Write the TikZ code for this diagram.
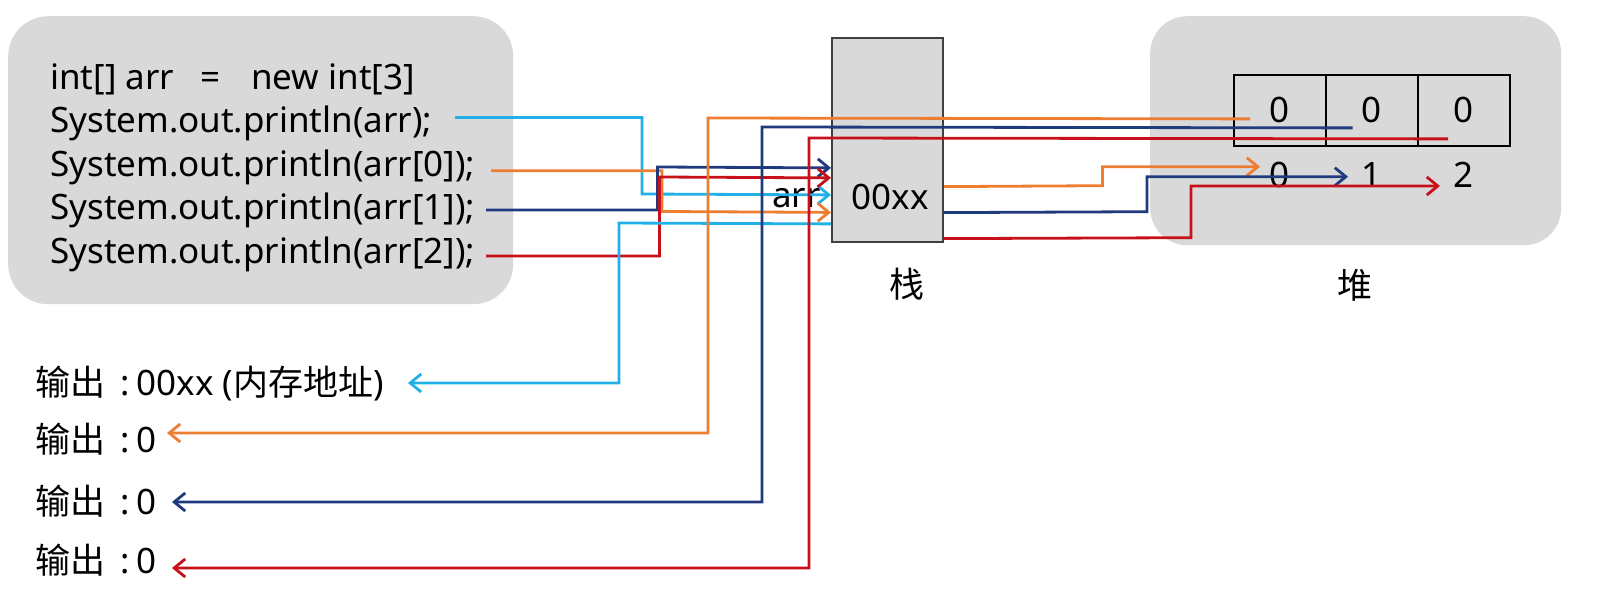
\documentclass[tikz,border=0pt]{standalone}
\usepackage{fontspec}
\setmainfont{Noto Sans}
\newfontfamily\cjk{Noto Sans CJK SC}
\usetikzlibrary{arrows.meta}
\definecolor{cyanl}{HTML}{22B0E8}
\definecolor{orangel}{HTML}{ED7D31}
\definecolor{navyl}{HTML}{1F3A7D}
\definecolor{redl}{HTML}{C8101A}
\definecolor{boxgray}{HTML}{D9D9D9}
\definecolor{edgegray}{HTML}{404040}
\newcommand{\outcolon}{\hspace{15pt}:\hspace{7pt}}
\begin{document}
\begin{tikzpicture}[x=1pt,y=-1pt,
  txt/.style={inner sep=0pt, font=\fontsize{35}{42}\selectfont},
  region/.style={fill=boxgray, draw=none, anchor=north west, inner sep=0pt},
  cell/.style={draw=black, line width=1.8pt, minimum width=92pt, minimum height=71pt, inner sep=0pt, font=\fontsize{35}{42}\selectfont},
  wire/.style={line width=2.8pt, line join=miter},
  tip/.style={-{Straight Barb[length=11pt,width=18pt]}}]
\useasboundingbox (0,0) rectangle (1608,609);

% regions
\node[region, rounded corners=40pt, minimum width=505pt, minimum height=288pt] (code) at (8,16) {};
\node[region, rounded corners=37pt, minimum width=411pt, minimum height=229pt] (heap) at (1150,16) {};
\node[fill=boxgray, draw=edgegray, line width=1.8pt, anchor=north west, minimum width=111pt, minimum height=204pt, inner sep=0pt] (stack) at (831,37) {};

% array cells
\node[cell, anchor=north west] (c0) at (1233,74) {0};
\node[cell, anchor=north west] (c1) at (1325,74) {0};
\node[cell, anchor=north west] (c2) at (1417,74) {0};
\node[txt] (i0) at (1279,175) {0};
\node[txt] (i1) at (1371,175) {1};
\node[txt] (i2) at (1463,175) {2};

% code lines
\node[txt, anchor=base west] (l1) at (50,89.5) {int[] arr\hspace{26pt}=\hspace{31pt}new int[3]};
\node[txt, anchor=base west] (l2) at (50,133) {System.out.println(arr);};
\node[txt, anchor=base west] (l3) at (50,176.5) {System.out.println(arr[0]);};
\node[txt, anchor=base west] (l4) at (50,220) {System.out.println(arr[1]);};
\node[txt, anchor=base west] (l5) at (50,263.5) {System.out.println(arr[2]);};

% stack texts
\node[txt] (addr) at (890,197) {00xx};
\node[txt, anchor=east] (arrlbl) at (821,198) {arr};
\node[txt] (zhan) at (907,284) {\cjk 栈};
\node[txt] (dui) at (1355,285) {\cjk 堆};

% outputs
\node[txt, anchor=base west] (o1) at (35,395) {{\cjk 输出}\outcolon 00xx ({\cjk 内存地址})};
\node[txt, anchor=base west] (o2) at (35,452) {{\cjk 输出}\outcolon 0};
\node[txt, anchor=base west] (o3) at (35,514) {{\cjk 输出}\outcolon 0};
\node[txt, anchor=base west] (o4) at (35,573) {{\cjk 输出}\outcolon 0};

% coordinates
\coordinate (cyS) at (455,117.5);
\coordinate (orS) at (491,170.7);
\coordinate (nvS) at (486,210);
\coordinate (rdS) at (486,256);
\coordinate (cyE) at (408,383);
\coordinate (orE) at (167,433);
\coordinate (nvE) at (172,502);
\coordinate (rdE) at (172,568);
\coordinate (orH) at (1260,166.7);
\coordinate (nvH) at (1348,176.7);
\coordinate (rdH) at (1440,186);

% code -> stack
\draw[wire, cyanl, tip] (cyS) -- (642,117.5) -- (642,194) -- ([yshift=-55pt]stack.west);
\draw[wire, orangel, tip] (orS) -- (662,170.7) -- (662,211.5) -- ([yshift=-72.5pt]stack.west);
\draw[wire, navyl, tip] (nvS) -- (657.5,210) -- (657.5,167) -- ([yshift=-28pt]stack.west);
\draw[wire, redl, tip] (rdS) -- (659.5,256) -- (659.5,177) -- ([yshift=-38pt]stack.west);

% stack -> output (address)
\draw[wire, cyanl, tip] ([yshift=-84pt]stack.west) -- (619,223) -- (619,383) -- (cyE);

% stack -> heap
\draw[wire, orangel, tip] ([yshift=-46.7pt]stack.east) -- (1102.5,185.7) -- (1102.5,166.7) -- (orH);
\draw[wire, navyl, tip] ([yshift=-72.7pt]stack.east) -- (1147,211.7) -- (1147,176.7) -- (nvH);
\draw[wire, redl, tip] ([yshift=-98.7pt]stack.east) -- (1191,237.7) -- (1191,186) -- (rdH);

% heap cells -> outputs
\draw[wire, orangel, tip] ([xshift=17pt,yshift=-8.5pt]c0.west) -- (708,118) -- (708,433) -- (orE);
\draw[wire, navyl, tip] ([xshift=27.7pt,yshift=-17.5pt]c1.west) -- (762,127) -- (762,502) -- (nvE);
\draw[wire, redl, tip] ([xshift=31pt,yshift=-28.5pt]c2.west) -- (809,138) -- (809,568) -- (rdE);
\end{tikzpicture}
\end{document}
